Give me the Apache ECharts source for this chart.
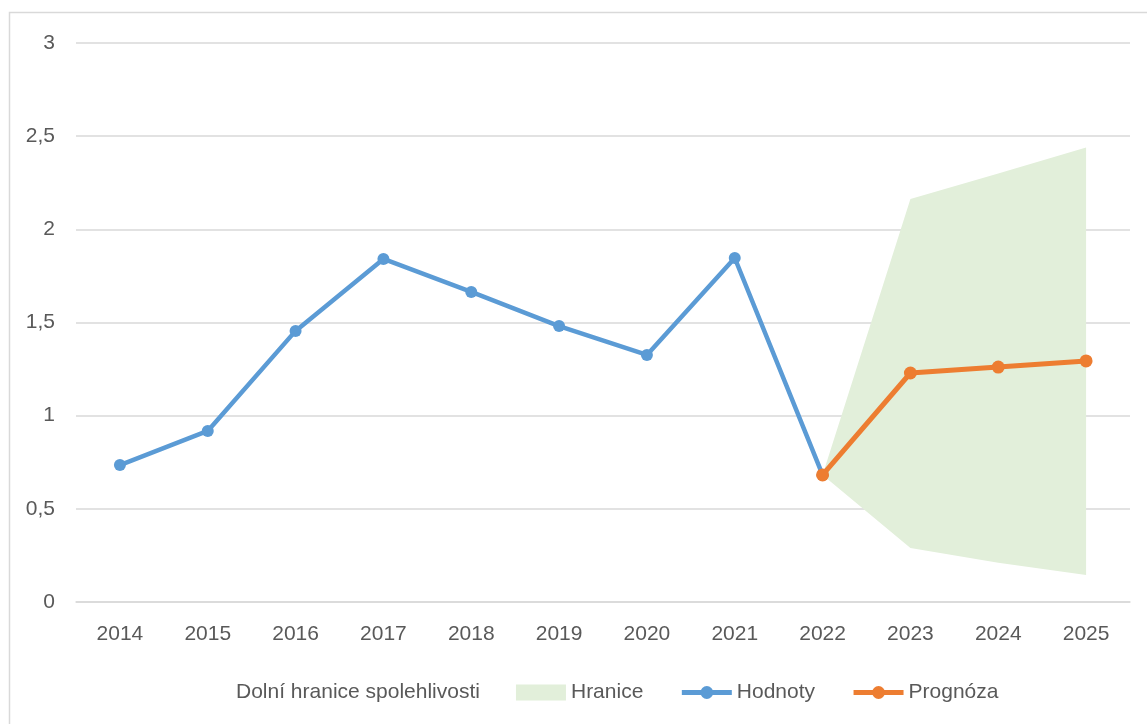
<!DOCTYPE html>
<html>
<head>
<meta charset="utf-8">
<script src="https://cdn.jsdelivr.net/npm/echarts@6/dist/echarts.min.js"></script>
<style>
html,body{margin:0;padding:0;background:#fff;}
#main{width:1147px;height:724px;}
</style>
</head>
<body>
<div id="main"></div>
<script>
// data
var years = ['2014','2015','2016','2017','2018','2019','2020','2021','2022','2023','2024','2025'];
var hodnoty = [0.735, 0.918, 1.455, 1.841, 1.664, 1.481, 1.326, 1.846, 0.682, '-', '-', '-'];
var prognoza = ['-', '-', '-', '-', '-', '-', '-', '-', 0.682, 1.229, 1.261, 1.294];
var dolniHranice = ['-', '-', '-', '-', '-', '-', '-', '-', 0.682, 0.29, 0.21, 0.145];
var horniHranice = ['-', '-', '-', '-', '-', '-', '-', '-', 0.682, 2.163, 2.30, 2.439];

// sirka pasu = horni - dolni
var pas = horniHranice.map(function(v, i){
    if(v === '-') return '-';
    return +(v - dolniHranice[i]).toFixed(3);
});

var txt = '#595959';
var font = 'Liberation Sans';

var chart = echarts.init(document.getElementById('main'));

var option = {
    animation: false,
    textStyle: {fontFamily: font},
    graphic: [{
        type: 'rect',
        shape: {x: 9.5, y: 12.5, width: 1160, height: 740},
        style: {fill: 'none', stroke: '#d9d9d9', lineWidth: 1.5},
        silent: true
    }],
    grid: {left: 76, right: 17, top: 43, bottom: 122},
    legend: {
        left: 176,
        top: 677,
        itemWidth: 50,
        itemHeight: 16,
        itemGap: 36,
        textStyle: {color: txt, fontSize: 21, fontFamily: font},
        data: [
            {name: 'Dolní hranice spolehlivosti', icon: 'none'},
            {name: 'Hranice', icon: 'rect', itemStyle: {color: '#e2efda'}},
            {name: 'Hodnoty', lineStyle: {width: 5}},
            {name: 'Prognóza', lineStyle: {width: 5}}
        ]
    },
    xAxis: {
        type: 'category',
        data: years,
        boundaryGap: true,
        axisLine: {lineStyle: {color: '#d9d9d9', width: 1.5}},
        axisTick: {show: false},
        axisLabel: {color: txt, fontSize: 21, margin: 22, fontFamily: font}
    },
    yAxis: {
        type: 'value',
        min: 0,
        max: 3,
        interval: 0.5,
        axisLine: {show: false},
        axisTick: {show: false},
        splitLine: {lineStyle: {color: '#d9d9d9', width: 1.5}},
        axisLabel: {
            color: txt, fontSize: 21, margin: 21, fontFamily: font,
            formatter: function(v){ return String(v).replace('.', ','); }
        }
    },
    series: [{
        name: 'Dolní hranice spolehlivosti',
        type: 'line',
        stack: 'pas',
        data: dolniHranice,
        symbol: 'none',
        lineStyle: {width: 0, opacity: 0},
        itemStyle: {color: 'rgba(0,0,0,0)'},
        silent: true
    }, {
        name: 'Hranice',
        type: 'line',
        stack: 'pas',
        data: pas,
        symbol: 'none',
        color: '#e2efda',
        itemStyle: {color: '#e2efda'},
        lineStyle: {width: 0, opacity: 0},
        areaStyle: {color: '#e2efda', opacity: 1},
        silent: true
    }, {
        name: 'Hodnoty',
        type: 'line',
        data: hodnoty,
        symbol: 'circle',
        symbolSize: 12,
        color: '#5b9bd5',
        itemStyle: {color: '#5b9bd5'},
        lineStyle: {color: '#5b9bd5', width: 4.5}
    }, {
        name: 'Prognóza',
        type: 'line',
        data: prognoza,
        symbol: 'circle',
        symbolSize: 13,
        color: '#ed7d31',
        itemStyle: {color: '#ed7d31'},
        lineStyle: {color: '#ed7d31', width: 5}
    }]
};

chart.setOption(option);
</script>
</body>
</html>
